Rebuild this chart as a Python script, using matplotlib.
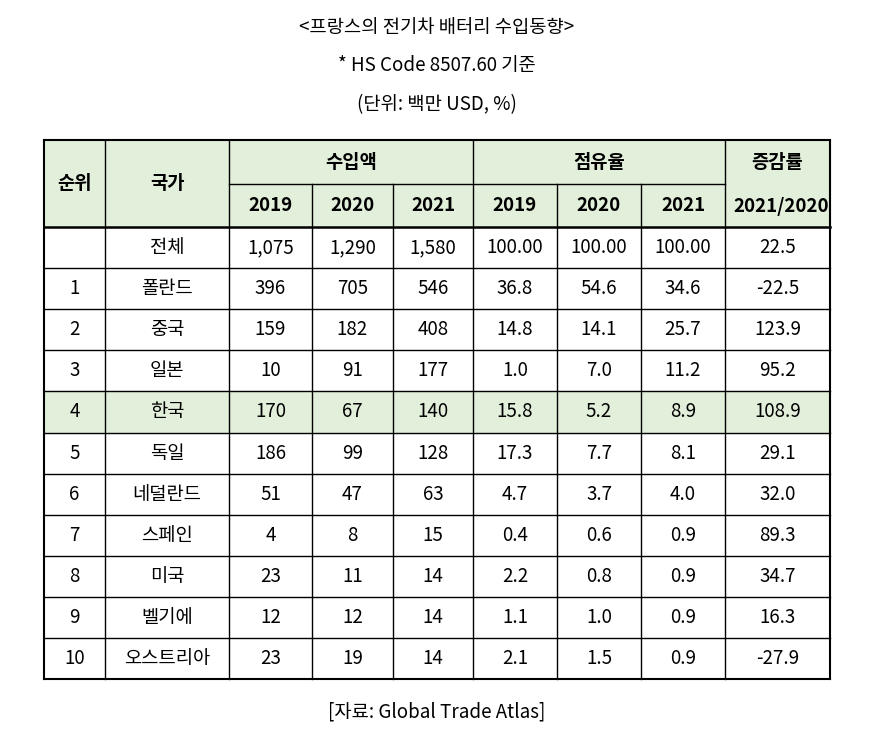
import matplotlib
matplotlib.use("Agg")
import matplotlib.pyplot as plt
from matplotlib import font_manager as fm

names = set(f.name for f in fm.fontManager.ttflist)
cands = [n for n in ["Noto Sans CJK KR", "Noto Sans CJK JP", "Noto Sans CJK SC", "Noto Sans CJK TC"] if n in names]
plt.rcParams["font.family"] = cands + ["DejaVu Sans"]

title = "<프랑스의 전기차 배터리 수입동향>"
subtitle = "* HS Code 8507.60 기준"
unit = "(단위: 백만 USD, %)"
source = "[자료: Global Trade Atlas]"
years = ["2019", "2020", "2021"]
ranks = ["", "1", "2", "3", "4", "5", "6", "7", "8", "9", "10"]
countries = ["전체", "폴란드", "중국", "일본", "한국", "독일", "네덜란드", "스페인", "미국", "벨기에", "오스트리아"]
imp2019 = ["1,075", "396", "159", "10", "170", "186", "51", "4", "23", "12", "23"]
imp2020 = ["1,290", "705", "182", "91", "67", "99", "47", "8", "11", "12", "19"]
imp2021 = ["1,580", "546", "408", "177", "140", "128", "63", "15", "14", "14", "14"]
sh2019 = ["100.00", "36.8", "14.8", "1.0", "15.8", "17.3", "4.7", "0.4", "2.2", "1.1", "2.1"]
sh2020 = ["100.00", "54.6", "14.1", "7.0", "5.2", "7.7", "3.7", "0.6", "0.8", "1.0", "1.5"]
sh2021 = ["100.00", "34.6", "25.7", "11.2", "8.9", "8.1", "4.0", "0.9", "0.9", "0.9", "0.9"]
growth = ["22.5", "-22.5", "123.9", "95.2", "108.9", "29.1", "32.0", "89.3", "34.7", "16.3", "-27.9"]

fig = plt.figure(figsize=(8.75, 7.43), dpi=100)
ax = fig.add_axes([0, 0, 1, 1])
ax.set_xlim(0, 875); ax.set_ylim(743, 0); ax.axis("off")

xs = [44, 105, 229, 312, 393, 473, 557, 641, 725, 830]
y0, y1, y2 = 140, 184, 227
rowh = 41.1
ys = [y2 + i * rowh for i in range(12)]
green = "#E2EFDA"
fs = 13.5

ax.add_patch(plt.Rectangle((xs[0], y0), xs[-1] - xs[0], y2 - y0, color=green, zorder=0))
ax.add_patch(plt.Rectangle((xs[0], ys[4]), xs[-1] - xs[0], rowh, color=green, zorder=0))

lw = 1.0
ax.plot([xs[0], xs[-1]], [y0, y0], color="black", lw=1.5)
ax.plot([xs[2], xs[8]], [y1, y1], color="black", lw=lw)
ax.plot([xs[0], xs[-1]], [y2, y2], color="black", lw=1.8)
for y in ys[1:-1]:
    ax.plot([xs[0], xs[-1]], [y, y], color="black", lw=lw)
ax.plot([xs[0], xs[-1]], [ys[-1], ys[-1]], color="black", lw=1.5)
for i, x in enumerate(xs):
    if i in (3, 4, 6, 7):
        ax.plot([x, x], [y1, ys[-1]], color="black", lw=lw)
    else:
        ax.plot([x, x], [y0, ys[-1]], color="black", lw=1.5 if i in (0, 9) else lw)

def t(x, y, s, **kw):
    ax.text(x, y, s, ha="center", va="center", fontsize=fs, **kw)

t(437, 27, title); t(437, 66, subtitle); t(437, 105, unit); t(437, 712, source)
hb = dict(fontweight="bold")
t((xs[0] + xs[1]) / 2, (y0 + y2) / 2, "순위", **hb)
t((xs[1] + xs[2]) / 2, (y0 + y2) / 2, "국가", **hb)
t((xs[2] + xs[5]) / 2, (y0 + y1) / 2, "수입액", **hb)
t((xs[5] + xs[8]) / 2, (y0 + y1) / 2, "점유율", **hb)
t((xs[8] + xs[9]) / 2, 162, "증감률", **hb)
t((xs[8] + xs[9]) / 2 + 4, 206, "2021/2020", **hb)
for k in range(3):
    t((xs[2 + k] + xs[3 + k]) / 2, (y1 + y2) / 2, years[k], **hb)
    t((xs[5 + k] + xs[6 + k]) / 2, (y1 + y2) / 2, years[k], **hb)

cols = [ranks, countries, imp2019, imp2020, imp2021, sh2019, sh2020, sh2021, growth]
for r in range(11):
    yc = ys[r] + rowh / 2
    for c, col in enumerate(cols):
        t((xs[c] + xs[c + 1]) / 2, yc, col[r])

fig.savefig("out.png", dpi=100)
